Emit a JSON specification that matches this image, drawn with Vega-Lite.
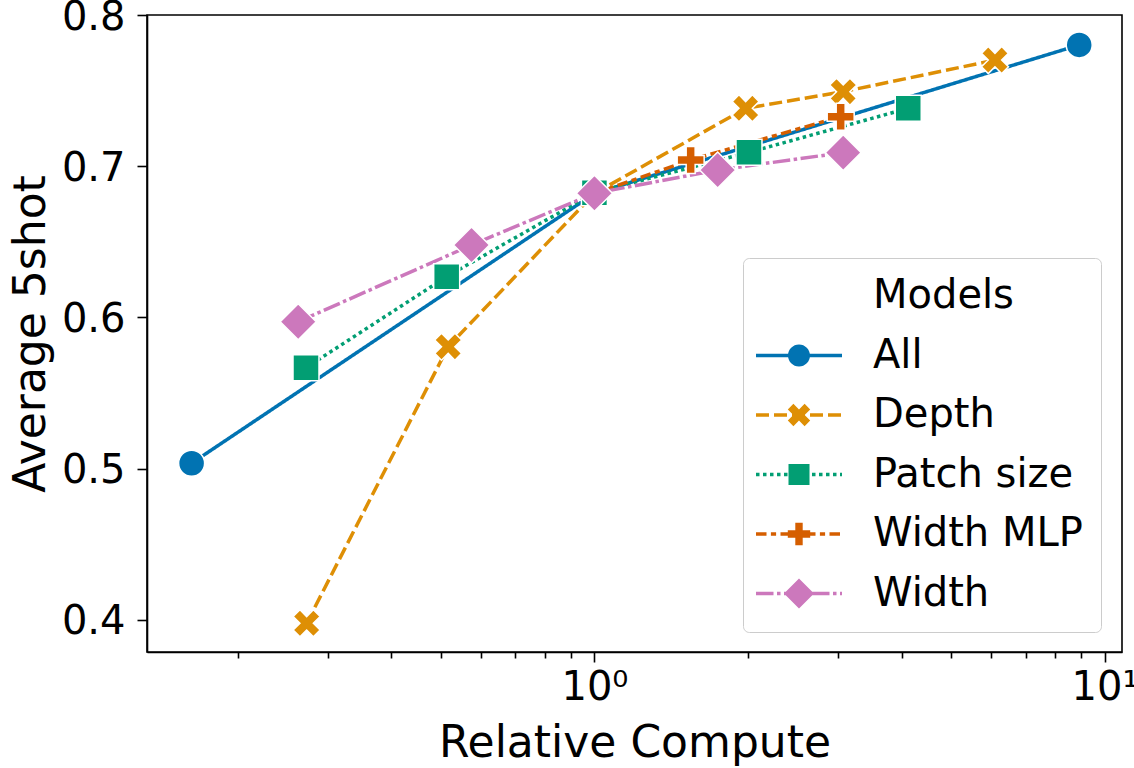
{
  "$schema": "https://vega.github.io/schema/vega-lite/v6.json",
  "width": 975,
  "height": 637,
  "autosize": {"type": "none"},
  "padding": {"left": 147, "top": 15, "right": 12, "bottom": 116},
  "background": "white",
  "config": {
    "font": "DejaVu Sans",
    "view": {"stroke": "black", "strokeWidth": 1.6}
  },
  "data": {
    "values": [
      {"model": "All", "x": 0.1623, "y": 0.5036},
      {"model": "All", "x": 1.0, "y": 0.682},
      {"model": "All", "x": 8.92, "y": 0.7802},
      {"model": "Depth", "x": 0.2728, "y": 0.3978},
      {"model": "Depth", "x": 0.5168, "y": 0.5807},
      {"model": "Depth", "x": 1.0, "y": 0.682},
      {"model": "Depth", "x": 1.979, "y": 0.7383},
      {"model": "Depth", "x": 3.074, "y": 0.7493},
      {"model": "Depth", "x": 6.098, "y": 0.7702},
      {"model": "Patch size", "x": 0.272, "y": 0.5668},
      {"model": "Patch size", "x": 0.5133, "y": 0.627},
      {"model": "Patch size", "x": 1.0, "y": 0.6825},
      {"model": "Patch size", "x": 2.009, "y": 0.7092},
      {"model": "Patch size", "x": 4.123, "y": 0.7383},
      {"model": "Width MLP", "x": 1.0, "y": 0.682},
      {"model": "Width MLP", "x": 1.544, "y": 0.7041},
      {"model": "Width MLP", "x": 3.039, "y": 0.7328},
      {"model": "Width", "x": 0.2626, "y": 0.5972},
      {"model": "Width", "x": 0.5742, "y": 0.6479},
      {"model": "Width", "x": 1.0, "y": 0.6821},
      {"model": "Width", "x": 1.744, "y": 0.6975},
      {"model": "Width", "x": 3.074, "y": 0.709}
    ]
  },
  "layer": [
    {
      "mark": {"type": "line", "strokeWidth": 3.5},
      "encoding": {
        "x": {
          "field": "x",
          "type": "quantitative",
          "scale": {"type": "log", "domain": [0.1327, 10.82], "nice": false},
          "axis": {
            "title": "Relative Compute",
            "values": [0.2, 0.3, 0.4, 0.5, 0.6, 0.7, 0.8, 0.9, 1, 2, 3, 4, 5, 6, 7, 8, 9, 10],
            "labelExpr": "datum.value == 1 ? '10⁰' : (datum.value == 10 ? '10¹' : '')",
            "labelOverlap": false,
            "labelFlush": false,
            "labelFontSize": 40,
            "labelColor": "black",
            "labelPadding": 5,
            "tickSize": {"condition": {"test": "datum.value == 1 || datum.value == 10", "value": 10}, "value": 6},
            "tickColor": "black",
            "tickWidth": 1.6,
            "domainColor": "black",
            "domainWidth": 1.6,
            "grid": false,
            "titleFontSize": 44,
            "titleFontWeight": "normal",
            "titleColor": "black",
            "titlePadding": 14
          }
        },
        "y": {
          "field": "y",
          "type": "quantitative",
          "scale": {"domain": [0.3788, 0.8], "nice": false, "zero": false},
          "axis": {
            "title": "Average 5shot",
            "values": [0.4, 0.5, 0.6, 0.7, 0.8],
            "format": ".1f",
            "labelFlush": false,
            "labelFontSize": 40,
            "labelColor": "black",
            "labelPadding": 12,
            "labelOffset": 2,
            "tickSize": 10,
            "tickColor": "black",
            "tickWidth": 1.6,
            "domainColor": "black",
            "domainWidth": 1.6,
            "grid": false,
            "titleFontSize": 44,
            "titleFontWeight": "normal",
            "titleColor": "black",
            "titlePadding": 8
          }
        },
        "color": {
          "field": "model",
          "type": "nominal",
          "scale": {
            "domain": ["All", "Depth", "Patch size", "Width MLP", "Width"],
            "range": ["#0173b2", "#de8f05", "#029e73", "#d55e00", "#cc78bc"]
          },
          "legend": null
        },
        "strokeDash": {
          "field": "model",
          "type": "nominal",
          "scale": {
            "domain": ["All", "Depth", "Patch size", "Width MLP", "Width"],
            "range": [[1, 0], [13, 5], [3.5, 3.5], [10.5, 4.4, 5.2, 4.4], [17.5, 3.5, 3.5, 3.5]]
          },
          "legend": null
        }
      }
    },
    {
      "mark": {"type": "point", "filled": true, "size": 4, "opacity": 1, "stroke": "white", "strokeWidth": 1.5},
      "encoding": {
        "x": {"field": "x", "type": "quantitative"},
        "y": {"field": "y", "type": "quantitative"},
        "color": {
          "field": "model",
          "type": "nominal",
          "scale": {
            "domain": ["All", "Depth", "Patch size", "Width MLP", "Width"],
            "range": ["#0173b2", "#de8f05", "#029e73", "#d55e00", "#cc78bc"]
          },
          "legend": null
        },
        "shape": {
          "field": "model",
          "type": "nominal",
          "scale": {
            "domain": ["All", "Depth", "Patch size", "Width MLP", "Width"],
            "range": [
              "M13,0A13,13,0,1,1,-13,0A13,13,0,1,1,13,0Z",
              "M13.5,-6.7L6.7,0L13.5,6.7L6.7,13.5L0,6.7L-6.7,13.5L-13.5,6.7L-6.7,0L-13.5,-6.7L-6.7,-13.5L0,-6.7L6.7,-13.5Z",
              "M-13,-13H13V13H-13Z",
              "M-4.5,-13.5H4.5V-4.5H13.5V4.5H4.5V13.5H-4.5V4.5H-13.5V-4.5H-4.5Z",
              "M0,-18L18,0L0,18L-18,0Z"
            ]
          },
          "legend": null
        }
      }
    },
    {
      "transform": [{"filter": "false"}],
      "mark": {"type": "point", "filled": true, "size": 4, "opacity": 1, "strokeWidth": 0},
      "encoding": {
        "color": {
          "field": "model",
          "type": "nominal",
          "scale": {
            "domain": ["Models", "All", "Depth", "Patch size", "Width MLP", "Width"],
            "range": ["rgba(0,0,0,0)", "#0173b2", "#de8f05", "#029e73", "#d55e00", "#cc78bc"]
          },
          "legend": {
            "orient": "none",
            "direction": "vertical",
            "legendX": 596,
            "legendY": 243,
            "title": null,
            "labelFont": "DejaVu Sans",
            "labelFontSize": 40,
            "labelColor": "black",
            "labelLimit": 400,
            "labelOffset": 72,
            "symbolSize": 4,
            "symbolStrokeWidth": 0,
            "symbolOpacity": 1,
            "rowPadding": 19.5,
            "padding": 18,
            "fillColor": "rgba(255,255,255,0.8)",
            "strokeColor": "#cccccc",
            "cornerRadius": 6
          }
        },
        "shape": {
          "field": "model",
          "type": "nominal",
          "scale": {
            "domain": ["Models", "All", "Depth", "Patch size", "Width MLP", "Width"],
            "range": [
              "M0,0H0.1V0.1H0Z",
              "M-25,-1.75H61V1.75H-25Z M29,0A11,11,0,1,1,7,0A11,11,0,1,1,29,0Z",
              "M-25,-1.75H-12V1.75H-25Z M-7,-1.75H6V1.75H-7Z M11,-1.75H24V1.75H11Z M29,-1.75H42V1.75H29Z M47,-1.75H60V1.75H47Z M29.2,-5.6L23.6,0L29.2,5.6L23.6,11.2L18,5.6L12.4,11.2L6.8,5.6L12.4,0L6.8,-5.6L12.4,-11.2L18,-5.6L23.6,-11.2Z",
              "M-25,-1.75H-21.5V1.75H-25Z M-18,-1.75H-14.5V1.75H-18Z M-11,-1.75H-7.5V1.75H-11Z M-4,-1.75H-0.5V1.75H-4Z M3,-1.75H6.5V1.75H3Z M31,-1.75H34.5V1.75H31Z M38,-1.75H41.5V1.75H38Z M45,-1.75H48.5V1.75H45Z M52,-1.75H55.5V1.75H52Z M59,-1.75H61V1.75H59Z M7.5,-10.5H28.5V10.5H7.5Z",
              "M-25,-1.75H-14.5V1.75H-25Z M-10.1,-1.75H-4.9V1.75H-10.1Z M-0.5,-1.75H10V1.75H-0.5Z M24,-1.75H34.5V1.75H24Z M38.9,-1.75H44.1V1.75H38.9Z M48.5,-1.75H59V1.75H48.5Z M14.3,-11.2H21.7V-3.7H29.2V3.7H21.7V11.2H14.3V3.7H6.8V-3.7H14.3Z",
              "M-25,-1.75H-7.5V1.75H-25Z M-4,-1.75H-0.5V1.75H-4Z M3,-1.75H20.5V1.75H3Z M31,-1.75H48.5V1.75H31Z M52,-1.75H55.5V1.75H52Z M59,-1.75H61V1.75H59Z M18,-15L33,0L18,15L3,0Z"
            ]
          },
          "legend": {
            "orient": "none",
            "direction": "vertical",
            "legendX": 596,
            "legendY": 243,
            "title": null,
            "labelFont": "DejaVu Sans",
            "labelFontSize": 40,
            "labelColor": "black",
            "labelLimit": 400,
            "labelOffset": 72,
            "symbolSize": 4,
            "symbolStrokeWidth": 0,
            "symbolOpacity": 1,
            "rowPadding": 19.5,
            "padding": 18,
            "fillColor": "rgba(255,255,255,0.8)",
            "strokeColor": "#cccccc",
            "cornerRadius": 6
          }
        }
      }
    }
  ],
  "resolve": {"scale": {"color": "independent", "shape": "independent"}}
}
